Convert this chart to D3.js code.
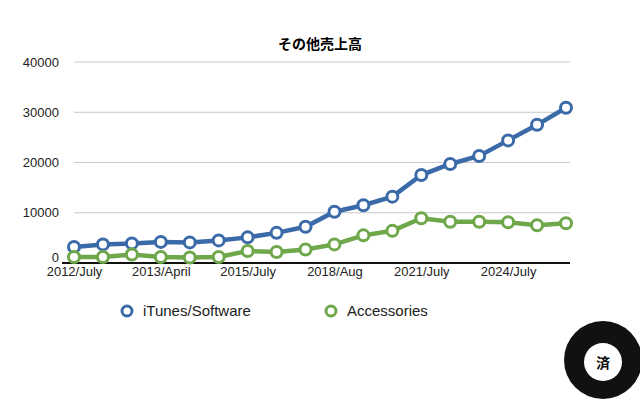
<!DOCTYPE html>
<html><head><meta charset="utf-8">
<script src="https://cdn.jsdelivr.net/npm/d3@7"></script>
<style>body{margin:0;background:#fff}</style></head>
<body><svg id="c" width="640" height="401"></svg>
<script>
const categories = d3.range(18).map(i => "P" + i);
const tickLabels = {0:"2012/July",3:"2013/April",6:"2015/July",9:"2018/Aug",12:"2021/July",15:"2024/July"};
const itunes = [3200,3700,3900,4200,4100,4500,5100,6000,7200,10200,11500,13200,17500,19700,21300,24400,27500,30900];
const accessories = [1200,1200,1700,1200,1100,1200,2400,2200,2700,3700,5500,6400,8900,8200,8200,8100,7500,7900];
const yTicks = [0,10000,20000,30000,40000];
const series = [
  {name:"iTunes/Software", values: itunes, color:"#3b6aa8"},
  {name:"Accessories", values: accessories, color:"#6fa74b"}
];
const svg = d3.select("#c");
const font = "'Helvetica Neue', 'Liberation Sans', Arial, sans-serif";
const x = d3.scalePoint().domain(categories).range([74, 566]);
const y = d3.scaleLinear().domain([0,40000]).range([263, 62]);

svg.append("text").attr("x",320).attr("y",49).attr("text-anchor","middle")
  .attr("font-family","'Noto Sans CJK JP'").attr("font-weight","bold").attr("font-size",14).text("その他売上高");

const ya = svg.append("g").attr("transform","translate(62,0)")
  .call(d3.axisLeft(y).tickValues(yTicks).tickSize(0).tickFormat(d3.format("d")));
ya.select(".domain").remove();
ya.selectAll("text").attr("font-family",font).attr("font-size",13).attr("fill","#222")
  .attr("dy",d=>d===0?"-0.1em":"0.32em");
svg.append("g").selectAll("line").data(yTicks.slice(1)).join("line")
  .attr("x1",74).attr("x2",570).attr("y1",d=>y(d)).attr("y2",d=>y(d))
  .attr("stroke","#c8c8c8").attr("stroke-width",1);

const xa = svg.append("g").attr("transform","translate(0,"+y(0)+")")
  .call(d3.axisBottom(x).tickSize(0).tickFormat((d,i)=>tickLabels[i]||""));
xa.select(".domain").attr("d","M62,0H570").attr("stroke","#111").attr("stroke-width",2);
xa.selectAll("text").attr("font-family",font).attr("font-size",13).attr("fill","#222").attr("dy","0.8em");

const line = d3.line().x((d,i)=>x(categories[i])).y(d=>y(d));
series.forEach(s=>{
  svg.append("path").datum(s.values).attr("d",line).attr("fill","none")
    .attr("stroke",s.color).attr("stroke-width",4.5);
  svg.append("g").selectAll("circle").data(s.values).join("circle")
    .attr("cx",(d,i)=>x(categories[i])).attr("cy",d=>y(d)).attr("r",5.5)
    .attr("fill","#fff").attr("stroke",s.color).attr("stroke-width",3);
});

const lg = [{x:127},{x:331}];
series.forEach((s,i)=>{
  svg.append("circle").attr("cx",lg[i].x).attr("cy",311).attr("r",5).attr("fill","#fff")
    .attr("stroke",s.color).attr("stroke-width",3);
  svg.append("text").attr("x",lg[i].x+16).attr("y",316).attr("font-family",font)
    .attr("font-size",15).attr("fill","#222").text(s.name);
});

// badge
svg.append("circle").attr("cx",603).attr("cy",360).attr("r",39).attr("fill","#111");
svg.append("circle").attr("cx",603).attr("cy",362).attr("r",19).attr("fill","#fff");
svg.append("text").attr("x",603).attr("y",368).attr("text-anchor","middle")
  .attr("font-family","'Noto Sans CJK JP'").attr("font-size",14).attr("font-weight","bold").attr("fill","#111").text("済");
</script></body></html>
